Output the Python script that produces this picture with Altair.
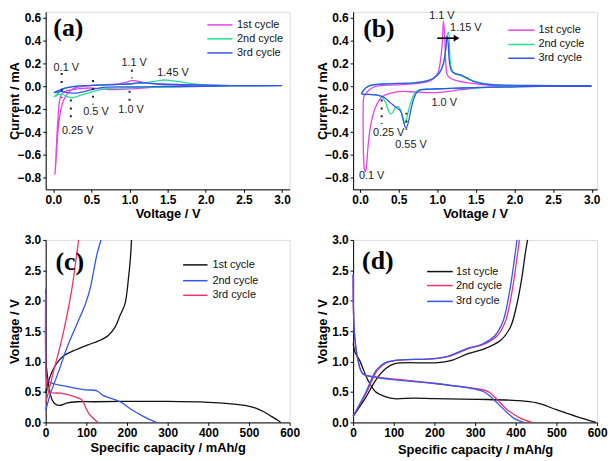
import altair as alt
import pandas as pd

# ---------------- data ----------------
SERIES = ["1st cycle", "2nd cycle", "3rd cycle"]

# (a) CV curves
a1_x = [1.97, 1.6, 1.3, 1.1, 0.95, 0.8, 0.65, 0.5, 0.35, 0.25, 0.17, 0.12, 0.09, 0.07, 0.05, 0.035, 0.025, 0.02, 0.03, 0.045,
        0.06, 0.08, 0.1, 0.13, 0.17, 0.22, 0.3, 0.4, 0.55, 0.7, 0.85, 0.95, 1.03, 1.1, 1.2, 1.35, 1.6, 1.97]
a1_y = [0.0, -0.005, -0.01, -0.02, -0.025, -0.03, -0.025, -0.015, -0.02, -0.03, -0.04, -0.06, -0.1, -0.2, -0.4, -0.6, -0.74, -0.77, -0.7, -0.55,
        -0.4, -0.28, -0.2, -0.13, -0.08, -0.04, -0.01, 0.0, 0.01, 0.015, 0.02, 0.035, 0.05, 0.045, 0.03, 0.02, 0.01, 0.0]
a2_x = [3.0, 2.5, 2.0, 1.7, 1.4, 1.1, 0.9, 0.7, 0.55, 0.45, 0.35, 0.25, 0.18, 0.12, 0.07, 0.03, 0.01, 0.03, 0.06, 0.1,
        0.15, 0.25, 0.4, 0.6, 0.8, 1.0, 1.2, 1.35, 1.45, 1.55, 1.7, 1.85, 2.0, 2.3, 3.0]
a2_y = [0.005, 0.005, 0.0, -0.005, -0.01, -0.01, -0.015, -0.02, -0.04, -0.06, -0.08, -0.1, -0.09, -0.07, -0.07, -0.085, -0.09, -0.08, -0.06, -0.04,
        -0.02, 0.0, 0.005, 0.01, 0.015, 0.02, 0.03, 0.045, 0.055, 0.05, 0.035, 0.02, 0.01, 0.005, 0.005]
a3_x = [3.0, 2.5, 2.0, 1.6, 1.2, 0.9, 0.65, 0.5, 0.38, 0.3, 0.25, 0.18, 0.1, 0.05, 0.01, 0.04, 0.09, 0.15, 0.25, 0.4,
        0.6, 0.8, 1.0, 1.1, 1.2, 1.4, 1.7, 2.1, 2.5, 3.0]
a3_y = [0.005, 0.005, 0.0, 0.0, -0.005, -0.005, -0.01, -0.03, -0.05, -0.06, -0.06, -0.055, -0.045, -0.05, -0.055, -0.045, -0.03, -0.015, -0.005, 0.005,
        0.01, 0.015, 0.02, 0.03, 0.03, 0.02, 0.015, 0.01, 0.005, 0.005]

# (b) CV curves
b1_x = [2.08, 1.8, 1.5, 1.3, 1.15, 1.0, 0.85, 0.7, 0.55, 0.4, 0.3, 0.24, 0.19, 0.15, 0.12, 0.1, 0.085, 0.07, 0.055, 0.045,
        0.04, 0.04, 0.05, 0.08, 0.12, 0.2, 0.35, 0.55, 0.75, 0.88, 0.96, 1.01, 1.04, 1.065, 1.08, 1.095, 1.11, 1.13, 1.17, 1.25,
        1.4, 1.6, 1.8, 2.08]
b1_y = [0.0, -0.005, -0.015, -0.03, -0.045, -0.055, -0.055, -0.05, -0.045, -0.06, -0.085, -0.13, -0.2, -0.3, -0.42, -0.55, -0.68, -0.745, -0.72, -0.6,
        -0.4, -0.2, -0.09, -0.06, -0.03, 0.0, 0.01, 0.015, 0.025, 0.04, 0.07, 0.12, 0.22, 0.38, 0.57, 0.45, 0.2, 0.1, 0.07, 0.05,
        0.03, 0.015, 0.005, 0.0]
b2_x = [2.27, 2.0, 1.7, 1.4, 1.1, 0.9, 0.78, 0.72, 0.68, 0.64, 0.61, 0.59, 0.57, 0.55, 0.52, 0.49, 0.45, 0.42, 0.39, 0.36,
        0.33, 0.28, 0.2, 0.1, 0.04, 0.02, 0.04, 0.08, 0.15, 0.3, 0.5, 0.7, 0.85, 0.95, 1.03, 1.08, 1.11, 1.13, 1.145, 1.16,
        1.18, 1.22, 1.28, 1.35, 1.45, 1.6, 1.8, 2.27]
b2_y = [0.0, -0.005, -0.01, -0.015, -0.02, -0.025, -0.03, -0.05, -0.1, -0.18, -0.26, -0.31, -0.32, -0.28, -0.2, -0.175, -0.19, -0.23, -0.24, -0.2,
        -0.14, -0.09, -0.075, -0.07, -0.07, -0.065, -0.04, -0.01, 0.01, 0.02, 0.025, 0.03, 0.045, 0.07, 0.12, 0.2, 0.32, 0.45, 0.47, 0.3,
        0.16, 0.11, 0.1, 0.08, 0.05, 0.025, 0.01, 0.0]
b3_x = [3.0, 2.5, 2.0, 1.6, 1.3, 1.1, 0.9, 0.8, 0.74, 0.7, 0.66, 0.63, 0.6, 0.58, 0.56, 0.53, 0.5, 0.46, 0.42, 0.37,
        0.32, 0.27, 0.2, 0.1, 0.04, 0.02, 0.04, 0.08, 0.15, 0.3, 0.5, 0.7, 0.85, 0.95, 1.03, 1.08, 1.11, 1.125, 1.14, 1.16,
        1.19, 1.24, 1.3, 1.38, 1.48, 1.6, 1.8, 2.2, 3.0]
b3_y = [0.0, 0.0, -0.005, -0.01, -0.015, -0.02, -0.025, -0.03, -0.05, -0.1, -0.2, -0.3, -0.36, -0.35, -0.29, -0.22, -0.2, -0.18, -0.16, -0.13,
        -0.1, -0.085, -0.075, -0.07, -0.07, -0.065, -0.04, -0.01, 0.01, 0.02, 0.025, 0.03, 0.045, 0.07, 0.12, 0.2, 0.33, 0.44, 0.38, 0.2,
        0.13, 0.11, 0.1, 0.075, 0.04, 0.02, 0.012, 0.008, 0.005]

# (c) charge/discharge
c1d_x = [0, 2, 5, 8, 12, 16, 22, 33, 45, 53, 77, 120, 200, 300, 400, 450, 490, 515, 535, 555, 570, 578]
c1d_y = [1.05, 0.9, 0.72, 0.59, 0.45, 0.37, 0.31, 0.28, 0.3, 0.32, 0.34, 0.34, 0.345, 0.345, 0.33, 0.31, 0.28, 0.24, 0.18, 0.1, 0.04, 0.0]
c1c_x = [0, 8, 24, 45, 69, 102, 130, 154, 171, 183, 195, 203, 209, 211]
c1c_y = [0.48, 0.7, 0.94, 1.1, 1.18, 1.27, 1.34, 1.43, 1.57, 1.76, 1.95, 2.33, 2.76, 3.0]
c2d_x = [0, 0, 2, 8, 45, 93, 126, 134, 142, 150, 183, 207, 240, 272]
c2d_y = [2.2, 1.2, 0.75, 0.67, 0.6, 0.54, 0.52, 0.48, 0.44, 0.42, 0.34, 0.23, 0.1, 0.0]
c2c_x = [0, 5, 12, 33, 53, 77, 98, 110, 118, 126, 136]
c2c_y = [0.2, 0.32, 0.48, 0.86, 1.24, 1.62, 1.95, 2.22, 2.49, 2.76, 3.0]
c3d_x = [0, 0, 3, 8, 37, 69, 89, 95, 100, 106, 115, 128]
c3d_y = [2.1, 1.0, 0.6, 0.5, 0.48, 0.43, 0.37, 0.3, 0.22, 0.15, 0.08, 0.0]
c3c_x = [0, 8, 20, 37, 53, 65, 73, 81]
c3c_y = [0.32, 0.53, 0.86, 1.29, 1.78, 2.22, 2.6, 3.0]

# (d) charge/discharge
d1d_x = [0, 5, 16, 36, 56, 81, 101, 150, 202, 306, 403, 452, 500, 548, 597]
d1d_y = [1.3, 1.15, 1.02, 0.7, 0.5, 0.42, 0.39, 0.4, 0.39, 0.38, 0.36, 0.32, 0.21, 0.1, 0.0]
d1c_x = [0, 32, 56, 81, 105, 202, 242, 282, 323, 363, 387, 403, 415, 423, 429]
d1c_y = [0.1, 0.42, 0.7, 0.89, 0.97, 0.98, 1.02, 1.13, 1.21, 1.35, 1.57, 1.95, 2.38, 2.76, 3.0]
d2d_x = [0, 1, 4, 12, 24, 56, 105, 202, 298, 331, 355, 379, 411, 440]
d2d_y = [2.43, 1.8, 1.4, 1.02, 0.8, 0.75, 0.71, 0.64, 0.56, 0.51, 0.37, 0.21, 0.07, 0.0]
d2c_x = [0, 32, 60, 81, 105, 202, 242, 282, 323, 355, 375, 391, 403, 409]
d2c_y = [0.1, 0.48, 0.86, 0.98, 1.02, 1.05, 1.1, 1.21, 1.29, 1.43, 1.67, 2.16, 2.7, 3.0]
d3d_x = [0, 1, 4, 12, 24, 56, 105, 202, 298, 323, 347, 371, 395, 419]
d3d_y = [2.43, 1.8, 1.4, 1.02, 0.8, 0.74, 0.7, 0.64, 0.55, 0.5, 0.37, 0.21, 0.07, 0.0]
d3c_x = [0, 30, 57, 78, 102, 198, 238, 278, 318, 349, 369, 385, 397, 403]
d3c_y = [0.1, 0.48, 0.86, 0.98, 1.02, 1.05, 1.1, 1.21, 1.29, 1.43, 1.67, 2.16, 2.7, 3.0]

# colours
MAG, GRN, BLU, RED, BLK = "#e444e6", "#22e094", "#3355ee", "#f0306a", "#111111"
colors_ab = [MAG, GRN, BLU]
colors_c = [BLK, BLU, RED]
colors_d = [BLK, RED, BLU]

# annotations (a)
a_rule_x = [0.11, 0.23, 0.52, 1.0, 1.03]
a_rule_y1 = [0.115, -0.115, 0.055, -0.04, 0.145]
a_rule_y2 = [-0.1, -0.32, -0.16, -0.13, 0.07]
a_txt = ["0.1 V", "0.25 V", "0.5 V", "1.0 V", "1.1 V", "1.45 V"]
a_txt_x = [0.17, 0.32, 0.56, 1.02, 1.06, 1.57]
a_txt_y = [0.16, -0.39, -0.225, -0.21, 0.2, 0.115]

# annotations (b)
b_rule_x = [0.28, 0.6]
b_rule_y1 = [-0.115, -0.23]
b_rule_y2 = [-0.33, -0.38]
b_txt = ["1.1 V", "1.15 V", "1.0 V", "0.25 V", "0.55 V", "0.1 V"]
b_txt_x = [1.06, 1.37, 1.09, 0.37, 0.66, 0.15]
b_txt_y = [0.61, 0.51, -0.15, -0.405, -0.51, -0.785]

FONT = "Liberation Sans"


def curves(segs, colors):
    rows = []
    for k, (name, parts) in enumerate(segs):
        for j, (xs, ys) in enumerate(parts):
            for i, (x, y) in enumerate(zip(xs, ys)):
                rows.append({"x": x, "y": y, "series": name, "seg": f"{name}-{j}",
                             "i": i, "color": colors[k]})
    return pd.DataFrame(rows)


def axis(values, fmt, title, tp):
    return alt.Axis(values=values, format=fmt, title=title, tickSize=3, labelPadding=2,
                    labelFont=FONT, labelFontSize=12, labelFontWeight="bold", labelColor="black",
                    titleFont=FONT, titleFontSize=13, titleFontWeight="bold", titleColor="black",
                    titlePadding=tp, domainColor="black", tickColor="black", grid=False,
                    labelFlush=False, labelOverlap=False)


def panel(df, xdom, ydom, xaxis, yaxis, w, h, legend_pos, label, label_pos,
          ann_rules=None, ann_txt=None, extra=None):
    xs = alt.Scale(domain=xdom, nice=False, zero=False)
    ys = alt.Scale(domain=ydom, nice=False, zero=False)

    def X(f):
        return alt.X(f, type="quantitative", scale=xs, axis=xaxis)

    def Y(f):
        return alt.Y(f, type="quantitative", scale=ys, axis=yaxis)

    layers = []
    lines = alt.Chart(df).mark_line(strokeWidth=1.3, interpolate="catmull-rom").encode(
        x=X("x"), y=Y("y"), detail="seg:N", order="i:Q",
        color=alt.Color("color:N", scale=None))
    layers.append(lines)

    lx1, lx2, ltx, lys = legend_pos
    cols = df.drop_duplicates("series")[["series", "color"]]
    leg = pd.DataFrame({"label": list(cols["series"]), "color": list(cols["color"]),
                        "x1": [lx1] * 3, "x2": [lx2] * 3, "xt": [ltx] * 3, "y": lys})
    layers.append(alt.Chart(leg).mark_rule(strokeWidth=1.5).encode(
        x=X("x1"), x2="x2", y=Y("y"), color=alt.Color("color:N", scale=None)))
    layers.append(alt.Chart(leg).mark_text(align="left", baseline="middle", font=FONT,
                                           fontSize=11, color="#111").encode(
        x=X("xt"), y=Y("y"), text="label:N"))

    lab = pd.DataFrame({"t": [label], "x": [label_pos[0]], "y": [label_pos[1]]})
    layers.append(alt.Chart(lab).mark_text(align="left", baseline="alphabetic",
                                           font="Liberation Serif", fontWeight="bold",
                                           fontSize=26, color="black").encode(
        x=X("x"), y=Y("y"), text="t:N"))

    if ann_rules is not None:
        layers.append(alt.Chart(ann_rules).mark_rule(strokeWidth=2, strokeDash=[2, 6],
                                                     color="#222").encode(
            x=X("x"), y=Y("y1"), y2="y2"))
    if ann_txt is not None:
        layers.append(alt.Chart(ann_txt).mark_text(align="center", baseline="middle",
                                                   font=FONT, fontSize=11, color="#222").encode(
            x=X("x"), y=Y("y"), text="t:N"))
    if extra is not None:
        for e in extra(X, Y):
            layers.append(e)
    return alt.layer(*layers).properties(width=w, height=h)


volt_vals = [0.0, 0.5, 1.0, 1.5, 2.0, 2.5, 3.0]
cur_vals = [-0.8, -0.6, -0.4, -0.2, 0.0, 0.2, 0.4, 0.6]
cap_vals = [0, 100, 200, 300, 400, 500, 600]

# panel a
df_a = curves([(SERIES[0], [(a1_x, a1_y)]), (SERIES[1], [(a2_x, a2_y)]),
               (SERIES[2], [(a3_x, a3_y)])], colors_ab)
ann_a_r = pd.DataFrame({"x": a_rule_x, "y1": a_rule_y1, "y2": a_rule_y2})
ann_a_t = pd.DataFrame({"t": a_txt, "x": a_txt_x, "y": a_txt_y})
yax_ab = axis(cur_vals, ".1f", "Current / mA", 1)
yax_ab.minExtent = 23
yax_ab.maxExtent = 23
pa = panel(df_a, [-0.1, 3.1], [-0.9, 0.65], axis(volt_vals, ".1f", "Voltage / V", 2), yax_ab,
           246, 179, (2.02, 2.35, 2.41, [0.536, 0.414, 0.291]), "(a)", (0.0, 0.44),
           ann_a_r, ann_a_t)

# panel b
df_b = curves([(SERIES[0], [(b1_x, b1_y)]), (SERIES[1], [(b2_x, b2_y)]),
               (SERIES[2], [(b3_x, b3_y)])], colors_ab)
ann_b_r = pd.DataFrame({"x": b_rule_x, "y1": b_rule_y1, "y2": b_rule_y2})
ann_b_t = pd.DataFrame({"t": b_txt, "x": b_txt_x, "y": b_txt_y})
arrow = pd.DataFrame({"x1": [1.0], "x2": [1.25], "y": [0.42]})


def arrow_layers(X, Y):
    return [
        alt.Chart(arrow).mark_rule(strokeWidth=1.6, color="black").encode(
            x=X("x1"), x2="x2", y=Y("y")),
        alt.Chart(arrow).mark_point(shape="triangle-right", filled=True, size=45,
                                    color="black", opacity=1).encode(
            x=X("x2"), y=Y("y")),
    ]


pb = panel(df_b, [-0.09, 3.07], [-0.9, 0.65], axis(volt_vals, ".1f", "Voltage / V", 2), yax_ab,
           246, 179, (1.92, 2.26, 2.31, [0.49, 0.365, 0.245]), "(b)", (0.04, 0.43),
           ann_b_r, ann_b_t, arrow_layers)

# panel c
df_c = curves([(SERIES[0], [(c1d_x, c1d_y), (c1c_x, c1c_y)]),
               (SERIES[1], [(c2d_x, c2d_y), (c2c_x, c2c_y)]),
               (SERIES[2], [(c3d_x, c3d_y), (c3c_x, c3c_y)])], colors_c)
yax_cd = axis(volt_vals, ".1f", "Voltage / V", 1)
yax_cd.minExtent = 23
yax_cd.maxExtent = 23
pc = panel(df_c, [0, 600], [0, 3], axis(cap_vals, "d", "Specific capacity / mAh/g", 3), yax_cd,
           246, 184, (338, 398, 410, [2.59, 2.33, 2.09]), "(c)", (24, 2.51))

# panel d
df_d = curves([(SERIES[0], [(d1d_x, d1d_y), (d1c_x, d1c_y)]),
               (SERIES[1], [(d2d_x, d2d_y), (d2c_x, d2c_y)]),
               (SERIES[2], [(d3d_x, d3d_y), (d3c_x, d3c_y)])], colors_d)
pd_ = panel(df_d, [0, 600], [0, 3], axis(cap_vals, "d", "Specific capacity / mAh/g", 5), yax_cd,
            246, 184, (182, 245, 253, [2.48, 2.25, 1.99]), "(d)", (22, 2.53))

chart = alt.concat(pa, pb, pc, pd_, columns=2, spacing={"row": 51, "column": 64},
                   bounds="flush").properties(padding=0).configure_view(
    stroke="black", strokeWidth=1).configure(background="white")

chart.save("out.html", embed_options={"renderer": "svg", "actions": False})
